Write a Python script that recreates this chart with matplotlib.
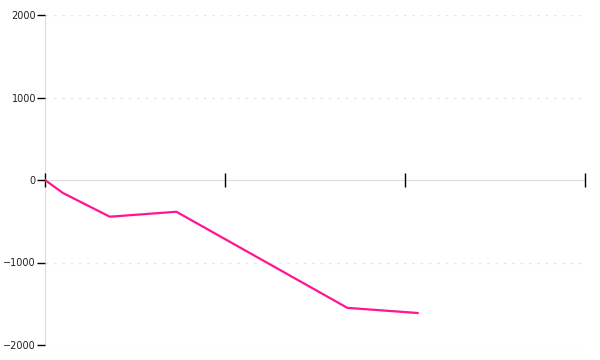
import numpy as np
import matplotlib
matplotlib.use("Agg")
import matplotlib.pyplot as plt

# values (x in tick units, no x labels shown)
x_vals = [0.0, 0.10, 0.36, 0.73, 1.68, 2.07]
y_vals = [0, -158, -445, -385, -1550, -1612]
y_ticks = [-2000, -1000, 0, 1000, 2000]
x_ticks = [0, 1, 2, 3]

fig = plt.figure(figsize=(6, 3.6), dpi=100)
ax = fig.add_axes([45/600, 15/360, 540/600, 330/360])

ax.plot(x_vals, y_vals, color="#ff1493", lw=1.6, solid_joinstyle="round", zorder=3)

ax.set_xlim(0, 3)
ax.set_ylim(-2000, 2000)
ax.set_yticks(y_ticks)
ax.set_yticklabels([str(v).replace("-", "\u2212") for v in y_ticks])
ax.set_xticks(x_ticks)
ax.set_xticklabels([])

for s in ["top", "right"]:
    ax.spines[s].set_visible(False)
ax.spines["left"].set_color("#dddddd")
ax.spines["bottom"].set_color("#dddddd")
ax.spines["bottom"].set_position(("data", 0))
ax.spines["left"].set_zorder(1)
ax.spines["bottom"].set_zorder(1)
ax.set_axisbelow(False)

for v in y_ticks:
    if v != 0:
        ax.axhline(v, color="#e6e6e6", lw=1, ls=(0, (2, 4)), zorder=0)

ax.tick_params(axis="y", length=6, width=1, color="black", labelsize=7, pad=0.5, labelcolor="#222222")
ax.tick_params(axis="x", direction="inout", length=10, width=1, color="black")

fig.savefig("out.png", dpi=100)
